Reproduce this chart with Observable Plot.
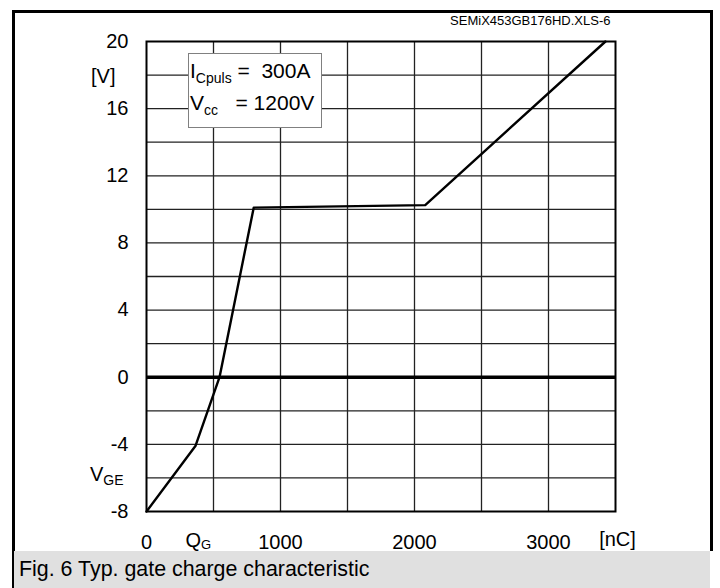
<!DOCTYPE html>
<html>
<head>
<meta charset="utf-8">
<script src="https://cdn.jsdelivr.net/npm/d3@7"></script>
<script src="https://cdn.jsdelivr.net/npm/@observablehq/plot@0.6"></script>
<style>
  html, body { margin: 0; padding: 0; background: #fff; }
  #wrap { position: relative; width: 720px; height: 588px; overflow: hidden; font-family: "Liberation Sans", Arial, sans-serif; }
  #chart { position: absolute; left: 0; top: 0; }
  .bar { position: absolute; background: #000; }
  #legend { position: absolute; left: 188px; top: 53px; width: 134px; height: 75px; box-sizing: border-box;
            border: 1px solid #808080; background: #fff; font-size: 21px; line-height: 32px; padding: 1px 0 0 1px; white-space: pre; color: #000; }
  #legend sub { font-size: 14px; vertical-align: -5px; line-height: 0; }
  #caption { position: absolute; left: 14px; top: 551px; width: 696px; height: 37px; background: #e0e0e0;
             font-size: 21.4px; line-height: 37px; padding-left: 5px; box-sizing: border-box; color: #000; }
</style>
</head>
<body>
<div id="wrap">
  <div id="chart"></div>
  <div class="bar" style="left:12px;top:10px;width:2.5px;height:578px;"></div>
  <div class="bar" style="left:12px;top:10px;width:700.5px;height:3px;"></div>
  <div class="bar" style="left:709.5px;top:10px;width:3px;height:541px;"></div>
  <div id="legend"></div>
  <div id="caption"></div>
</div>
<script>
// ---- data ----
const qG  = [0, 365, 545, 800, 2080, 3425];      // gate charge [nC]
const vGE = [-8, -4.1, 0, 10.1, 10.25, 20];      // gate-emitter voltage [V]

const xTicks = [0, 1000, 2000, 3000];
const yTicks = [-8, -4, 0, 4, 8, 12, 16, 20];
const xGrid = [500, 1000, 1500, 2000, 2500, 3000];
const yGrid = [-6, -4, -2, 0, 2, 4, 6, 8, 10, 12, 14, 16, 18];

const fileTag = "SEMiX453GB176HD.XLS-6";
const captionText = "Fig. 6 Typ. gate charge characteristic";
const legendLines = [["I", "Cpuls", " =  300A"], ["V", "cc", "   = 1200V"]];

const curve = qG.map((q, i) => ({q, v: vGE[i]}));

const plot = Plot.plot({
  width: 720,
  height: 588,
  marginLeft: 146,
  marginRight: 105,
  marginTop: 41,
  marginBottom: 77,
  style: {fontFamily: '"Liberation Sans", Arial, sans-serif', fontSize: "20px", background: "transparent", color: "#000"},
  x: {domain: [0, 3500]},
  y: {domain: [-8, 20]},
  marks: [
    Plot.gridX(xGrid, {stroke: "#222", strokeOpacity: 1, strokeWidth: 1.3}),
    Plot.gridY(yGrid, {stroke: "#222", strokeOpacity: 1, strokeWidth: 1.3}),
    Plot.ruleY([0], {stroke: "#000", strokeWidth: 3.5}),
    Plot.line(curve, {x: "q", y: "v", stroke: "#000", strokeWidth: 2.4}),
    Plot.frame({stroke: "#000", strokeWidth: 2}),
    Plot.axisX(xTicks, {tickSize: 0, tickPadding: 23, fontSize: 20, label: null, tickFormat: d => `${d}`}),
    Plot.axisY(yTicks, {tickSize: 0, tickPadding: 18, fontSize: 20, label: null, tickFormat: d => `${d}`}),
    Plot.text(["[V]"], {text: d => d, frameAnchor: "top-left", textAnchor: "end", lineAnchor: "middle", dx: -31, dy: 35, fontSize: 20}),
    Plot.text(["V_GE"], {text: d => d, frameAnchor: "bottom-left", textAnchor: "end", lineAnchor: "middle", dx: -23, dy: -37, fontSize: 20}),
    Plot.text(["Q_G"], {text: d => d, frameAnchor: "bottom-left", textAnchor: "start", lineAnchor: "middle", dx: 39, dy: 29, fontSize: 20}),
    Plot.text(["[nC]"], {text: d => d, frameAnchor: "bottom-right", textAnchor: "middle", lineAnchor: "middle", dx: 2, dy: 28, fontSize: 20}),
    Plot.text([fileTag], {text: d => d, frameAnchor: "top-right", textAnchor: "end", lineAnchor: "middle", dx: -5, dy: -21, fontSize: 13})
  ]
});

// subscripts for "X_Y" labels
const subStyle = {GE: {size: 14, dy: 4}, G: {size: 13, dy: 2.5}};
d3.select(plot).selectAll("text").each(function() {
  const t = this.textContent;
  if (t.includes("_") && this.children.length === 0) {
    const [main, sub] = t.split("_");
    const st = subStyle[sub] || {size: 14, dy: 4};
    const sel = d3.select(this);
    sel.text(main);
    sel.append("tspan").attr("font-size", st.size).attr("dy", st.dy).text(sub);
  }
});

document.getElementById("chart").appendChild(plot);

const legend = document.getElementById("legend");
legendLines.forEach(([a, s, b]) => {
  const div = document.createElement("div");
  div.appendChild(document.createTextNode(a));
  const sub = document.createElement("sub");
  sub.textContent = s;
  div.appendChild(sub);
  div.appendChild(document.createTextNode(b));
  legend.appendChild(div);
});
document.getElementById("caption").textContent = captionText;
</script>
</body>
</html>
